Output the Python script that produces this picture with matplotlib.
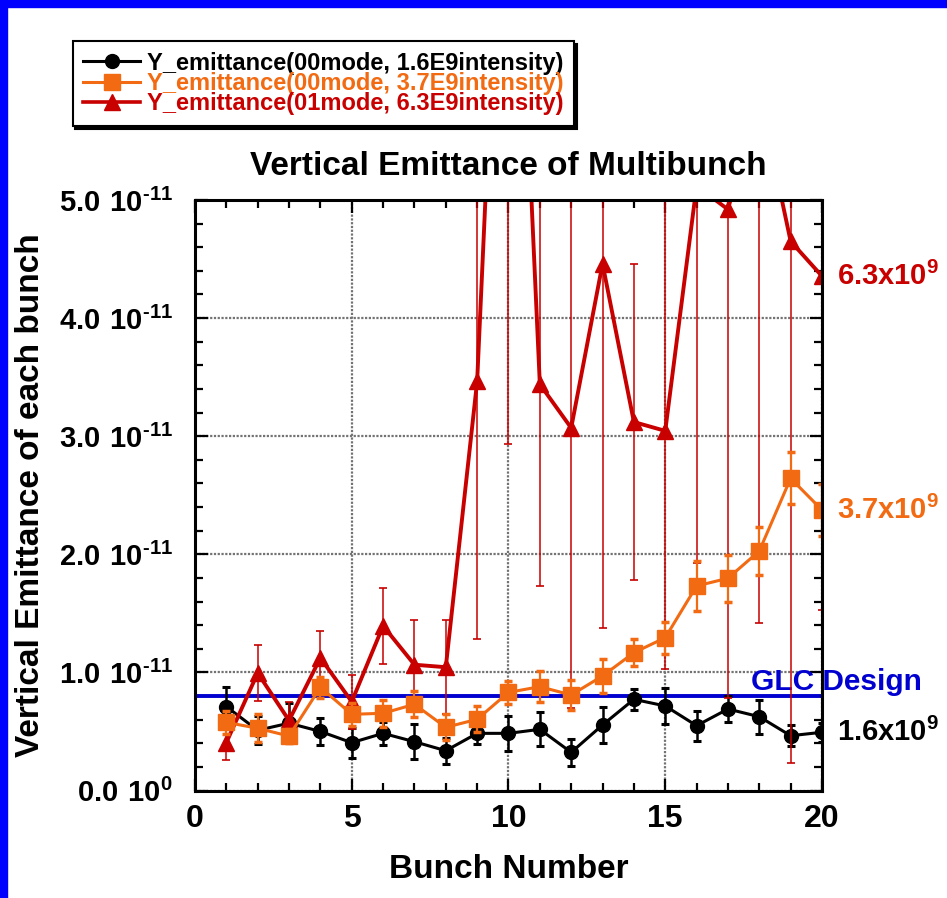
import numpy as np
import matplotlib
matplotlib.use('Agg')
import matplotlib.pyplot as plt
from matplotlib.lines import Line2D
from matplotlib.patches import Rectangle
from matplotlib.ticker import MultipleLocator

plt.rcParams['font.family'] = ['Liberation Sans', 'DejaVu Sans']
plt.rcParams['font.weight'] = 'bold'
plt.rcParams['mathtext.fontset'] = 'custom'
plt.rcParams['mathtext.rm'] = 'Liberation Sans:bold'
plt.rcParams['mathtext.bf'] = 'Liberation Sans:bold'
plt.rcParams['mathtext.default'] = 'rm'

# data, in units of 1e-11
E = 1e-11
bunch = np.arange(1, 21)
black = np.array([0.71, 0.51, 0.57, 0.50, 0.405, 0.484, 0.413, 0.337, 0.484, 0.484,
                  0.518, 0.323, 0.555, 0.772, 0.716, 0.549, 0.69, 0.625, 0.464, 0.493])
black_err = np.array([0.17, 0.12, 0.17, 0.117, 0.127, 0.10, 0.147, 0.11, 0.09, 0.15,
                      0.144, 0.113, 0.152, 0.09, 0.151, 0.127, 0.11, 0.144, 0.09, 0.08])
orange = np.array([0.577, 0.527, 0.461, 0.874, 0.645, 0.654, 0.730, 0.535, 0.603, 0.831,
                   0.879, 0.809, 0.970, 1.167, 1.294, 1.732, 1.797, 2.028, 2.643, 2.375])
orange_err = np.array([0.10, 0.12, 0.06, 0.09, 0.10, 0.116, 0.11, 0.11, 0.11, 0.095,
                       0.13, 0.13, 0.143, 0.115, 0.137, 0.209, 0.2, 0.207, 0.22, 0.22])
red = np.array([0.406, 0.995, 0.593, 1.123, 0.752, 1.394, 1.065, 1.044, 3.465, 9.3,
                3.44, 3.07, 4.46, 3.12, 3.045, 5.12, 4.92, 5.9, 4.65, 4.355])
red_err = np.array([0.15, 0.24, 0.16, 0.23, 0.23, 0.32, 0.38, 0.40, 2.185, 6.37,
                    1.71, 2.37, 3.08, 1.34, 2.015, 3.19, 4.14, 4.48, 4.42, 2.83])
glc_design = 0.80

labels = ['Y_emittance(00mode, 1.6E9intensity)',
          'Y_emittance(00mode, 3.7E9intensity)',
          'Y_emittance(01mode, 6.3E9intensity)']
end_labels = [r'$1.6x10^{9}$', r'$3.7x10^{9}$', r'$6.3x10^{9}$']
ytick_vals = [0, 1, 2, 3, 4, 5]
ytick_labels = [r'$0.0\ 10^{0}$', r'$1.0\ 10^{‐11}$', r'$2.0\ 10^{‐11}$',
                r'$3.0\ 10^{‐11}$', r'$4.0\ 10^{‐11}$', r'$5.0\ 10^{‐11}$']

c_black = 'black'
c_orange = '#F26A12'
c_red = '#C80000'
c_blue = '#0000D0'

fig = plt.figure(figsize=(9.47, 8.98), dpi=100)
ax = fig.add_axes([0.2059, 0.1197, 0.6621, 0.6576])

# blue frame of the slide (top and left)
fig.add_artist(Rectangle((0, 1 - 6.7 / 898), 1, 6.7 / 898, transform=fig.transFigure,
                         color='#0000FF', zorder=10))
fig.add_artist(Rectangle((0, 0), 7 / 947, 1, transform=fig.transFigure,
                         color='#0000FF', zorder=10))

ax.axhline(glc_design * E, color=c_blue, lw=2.8, zorder=2)

ax.errorbar(bunch, black * E, yerr=black_err * E, color=c_black, marker='o', ms=10,
            lw=2.2, elinewidth=1.8, capsize=3, capthick=2.2, zorder=3)
ax.errorbar(bunch, red * E, yerr=red_err * E, color=c_red, marker='^', ms=12,
            lw=2.8, elinewidth=1.1, capsize=3, capthick=1.2, zorder=4)
ax.errorbar(bunch, orange * E, yerr=orange_err * E, color=c_orange, marker='s', ms=12,
            lw=2.2, elinewidth=1.6, capsize=3, capthick=2.5, zorder=5)

ax.set_xlim(0, 20)
ax.set_ylim(0, 5 * E)
ax.xaxis.set_major_locator(MultipleLocator(5))
ax.xaxis.set_minor_locator(MultipleLocator(1))
ax.set_yticks([v * E for v in ytick_vals])
ax.set_yticklabels(ytick_labels)
ax.yaxis.set_minor_locator(MultipleLocator(0.2 * E))
ax.tick_params(which='both', direction='in', top=True, right=True, width=1.6)
ax.tick_params(which='major', length=9)
ax.tick_params(which='minor', length=6)
ax.tick_params(axis='x', labelsize=23, pad=10)
ax.tick_params(axis='y', labelsize=21, pad=16)
for s in ax.spines.values():
    s.set_linewidth(2.2)
    s.set_zorder(6)
ax.grid(True, which='major', color='0.45', ls=(0, (1, 0.7)), lw=1.6, zorder=1)
ax.set_axisbelow(True)

ax.set_title('Vertical Emittance of Multibunch', fontsize=24, fontweight='bold', pad=18)
ax.set_xlabel('Bunch Number', fontsize=24, fontweight='bold', labelpad=14)
ax.set_ylabel('Vertical Emittance of each bunch', fontsize=24, fontweight='bold')
ax.yaxis.set_label_coords(-0.237, 0.5)

for vals, lab, col in zip([black, orange, red], end_labels, [c_black, c_orange, c_red]):
    ax.annotate(lab, xy=(bunch[-1], vals[-1] * E), xytext=(11, 0), textcoords='offset points',
                va='center', ha='left', fontsize=21, color=col, annotation_clip=False)

ax.annotate('GLC Design', xy=(17.75, glc_design * E), xytext=(0, 4), textcoords='offset points',
            va='baseline', ha='left', fontsize=21.5, color=c_blue, annotation_clip=False)

handles = [Line2D([], [], color=c_black, marker='o', ms=10, lw=2.2),
           Line2D([], [], color=c_orange, marker='s', ms=11, lw=2.2),
           Line2D([], [], color=c_red, marker='^', ms=12, lw=2.6)]
leg = fig.legend(handles, labels, loc='upper left',
                 bbox_to_anchor=(72.7 / 947, 1 - 41 / 898), bbox_transform=fig.transFigure,
                 prop={'size': 17, 'weight': 'bold'}, labelspacing=-0.11,
                 handlelength=2.4, handletextpad=0.3, borderpad=0.45, borderaxespad=0,
                 frameon=True, fancybox=False, edgecolor='black', framealpha=1,
                 shadow={'facecolor': 'black', 'edgecolor': 'black', 'alpha': 1})
leg.get_frame().set_linewidth(1.5)
for t, col in zip(leg.get_texts(), [c_black, c_orange, c_red]):
    t.set_color(col)

fig.savefig('out.png', dpi=100)
